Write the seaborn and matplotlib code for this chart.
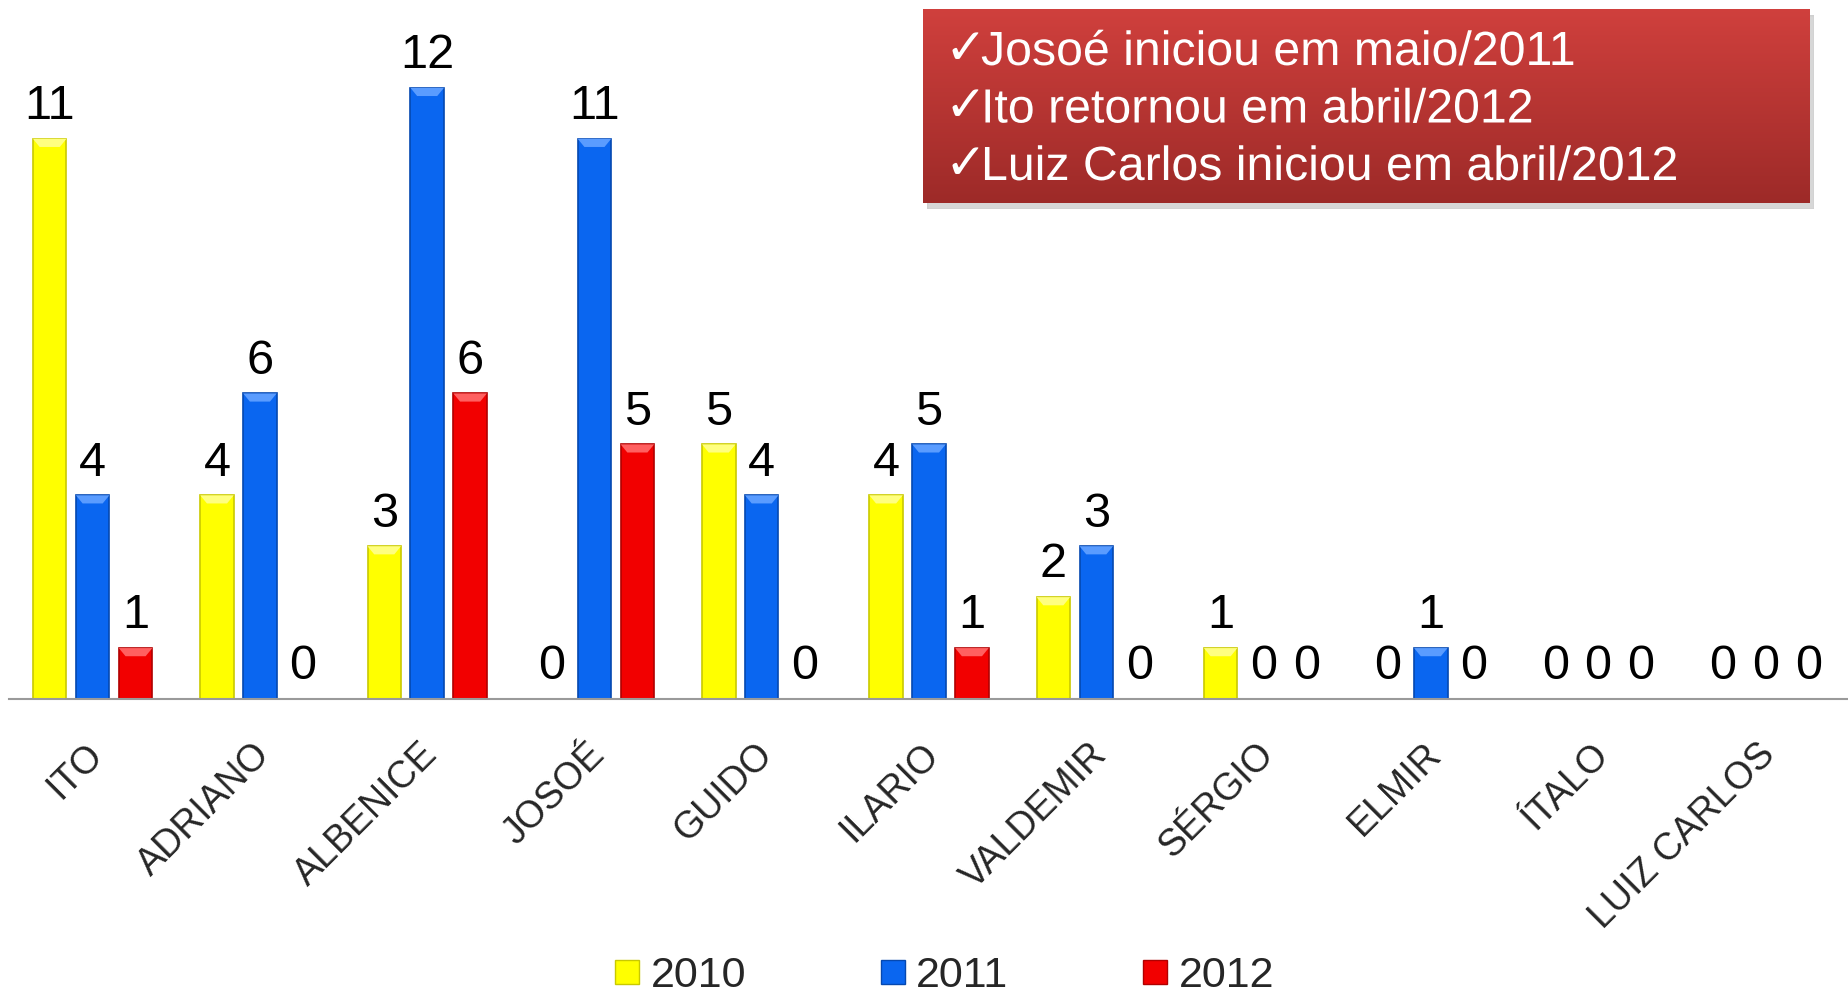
import numpy as np
import pandas as pd
import seaborn as sns
import matplotlib.pyplot as plt
from matplotlib.patches import Rectangle, PathPatch, Polygon
from matplotlib.lines import Line2D
from matplotlib.textpath import TextPath
from matplotlib.font_manager import FontProperties
from matplotlib.transforms import Affine2D, ScaledTranslation

nomes = ['ITO', 'ADRIANO', 'ALBENICE', 'JOSOÉ', 'GUIDO', 'ILARIO',
         'VALDEMIR', 'SÉRGIO', 'ELMIR', 'ÍTALO', 'LUIZ CARLOS']
anos = ['2010', '2011', '2012']
v2010 = [11, 4, 3, 0, 5, 4, 2, 1, 0, 0, 0]
v2011 = [4, 6, 12, 11, 4, 5, 3, 0, 1, 0, 0]
v2012 = [1, 0, 6, 5, 0, 1, 0, 0, 0, 0, 0]
notas = ['Josoé iniciou em maio/2011',
         'Ito retornou em abril/2012',
         'Luiz Carlos iniciou em abril/2012']

cores = {'2010': '#ffff00', '2011': '#0a66f0', '2012': '#f20000'}
bordas = {'2010': '#c9c900', '2011': '#0548b0', '2012': '#b00000'}
brilho = {'2010': '#ffff80', '2011': '#5a9cff', '2012': '#ff6060'}

df = pd.DataFrame({
    'nome': nomes * 3,
    'ano': [a for a in anos for _ in nomes],
    'valor': v2010 + v2011 + v2012,
})

sns.set_theme(style='white')
plt.rcParams['font.family'] = ['Liberation Sans', 'DejaVu Sans']

fig = plt.figure(figsize=(18.49, 9.99), dpi=100)
ax = fig.add_axes([9 / 1849, 0.3003, 1 - 9 / 1849, 0.6627])

sns.barplot(data=df, x='nome', y='valor', hue='ano', palette=cores,
            width=0.77, gap=0.22, saturation=1, ax=ax)

for cont, ano in zip(ax.containers, anos):
    for b in cont:
        b.set_edgecolor(bordas[ano])
        b.set_linewidth(1.2)
        h = b.get_height()
        if h > 0:
            x0, w = b.get_x(), b.get_width()
            d, dh = w * 0.2, 0.16
            ax.add_patch(Polygon([(x0, h), (x0 + w, h), (x0 + w - d, h - dh),
                                  (x0 + d, h - dh)], closed=True,
                                 facecolor=brilho[ano], edgecolor='none',
                                 zorder=b.get_zorder() + 0.1))
    ax.bar_label(cont, fmt='%d', padding=7, fontsize=35, color='black')

ax.set_ylim(0, 13)
ax.set_xlim(-0.5, len(nomes) - 0.5)
ax.set_xlabel('')
ax.set_ylabel('')
ax.set_yticks([])
for s in ['top', 'right', 'left']:
    ax.spines[s].set_visible(False)
ax.spines['bottom'].set_color('#9a9a9a')
ax.spines['bottom'].set_linewidth(1.5)
ax.tick_params(axis='x', length=0, pad=27)
ax.set_xticks(range(len(nomes)))
ax.set_xticklabels(nomes, rotation=45, ha='right', rotation_mode='anchor',
                   fontsize=27)
desloc = ScaledTranslation(-0.08, 0, fig.dpi_scale_trans)
for lb in ax.get_xticklabels():
    lb.set_transform(lb.get_transform() + desloc)

ax.legend_.remove()
handles = [Line2D([], [], marker='s', linestyle='', markersize=17,
                  markerfacecolor=cores[a], markeredgecolor=bordas[a])
           for a in anos]
fig.legend(handles, anos, loc='center', bbox_to_anchor=(0.51, 0.023),
           ncol=3, frameon=False, fontsize=31, handletextpad=0.2,
           columnspacing=3.05, handlelength=0.7)

# caixa de observações (coordenadas em pixels dentro da caixa)
bw, bh = 887, 194
sombra = fig.add_axes([927 / 1849, 1 - 209 / 999, bw / 1849, bh / 999])
sombra.add_patch(Rectangle((0, 0), 1, 1, color='#bdbdbd', alpha=0.6))
sombra.axis('off')
caixa = fig.add_axes([923 / 1849, 1 - 203 / 999, bw / 1849, bh / 999])
grad = np.linspace(0, 1, 256).reshape(-1, 1)
c_top = np.array([0xd0, 0x40, 0x3d]) / 255
c_bot = np.array([0x9d, 0x2a, 0x28]) / 255
img = c_top + grad[..., None] * (c_bot - c_top)
caixa.imshow(img, aspect='auto', extent=(0, bw, 0, bh), origin='upper')
caixa.set_xlim(0, bw)
caixa.set_ylim(0, bh)
caixa.axis('off')

fp = FontProperties(family='Liberation Sans')
ref_w = TextPath((0, 0), notas[2], size=100, prop=fp).get_extents().width
ref_h = TextPath((0, 0), 'L', size=100, prop=fp).get_extents().height
sx = 691 / ref_w
sy = 33 / ref_h
for yb, t in zip([138, 80.5, 23], notas):
    tp = TextPath((0, 0), t, size=100, prop=fp)
    tr = Affine2D().scale(sx, sy).translate(58, yb)
    caixa.add_patch(PathPatch(tr.transform_path(tp), color='white', lw=0))
    caixa.text(22, yb + 1, '✓', color='white', fontsize=36, va='baseline',
               ha='left', family='DejaVu Sans')

fig.savefig('out.png', dpi=100)
